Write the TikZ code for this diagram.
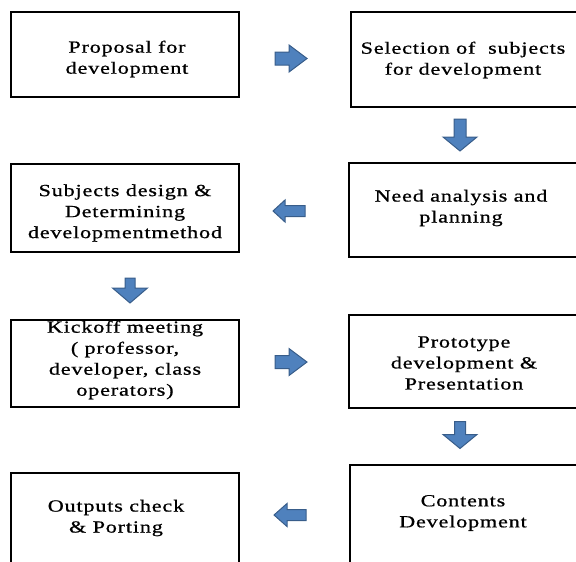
\documentclass[tikz,border=0pt]{standalone}
\usepackage{fontspec}
\setmainfont{Liberation Serif}[FakeStretch=1.3,LetterSpace=5,FakeBold=0.8]
\definecolor{arrfill}{HTML}{4F81BD}
\definecolor{arrdraw}{HTML}{385D8A}
% \blockarr{name}{x}{y}{rotation}{length}{head width}{shaft width}{head length}
\newcommand\blockarr[8]{%
  \coordinate (#1) at (#2,#3);
  \draw[blockarrow,shift={(#1)},rotate=#4]
    (-#5/2,-#7/2) -- (#5/2-#8,-#7/2) -- (#5/2-#8,-#6/2) -- (#5/2,0)
    -- (#5/2-#8,#6/2) -- (#5/2-#8,#7/2) -- (-#5/2,#7/2) -- cycle;}
\begin{document}
\begin{tikzpicture}[x=1pt,y=-1pt,
  stage/.style={draw=black,line width=2.6pt,fill=white,inner sep=0pt,anchor=center},
  stagetext/.style={align=center,font=\fontsize{17}{21}\selectfont,inner sep=0pt,anchor=center},
  blockarrow/.style={draw=arrdraw,fill=arrfill,line width=1pt,line join=miter}
]
\useasboundingbox (0,0) rectangle (576,562);
\begin{scope}
\clip (0,0) rectangle (576,562);
\node[stage,minimum width=228pt,minimum height=85pt] (b1) at (125,54.5) {};
\node[stage,minimum width=227pt,minimum height=95pt] (b2) at (464.5,59.5) {};
\node[stage,minimum width=228pt,minimum height=88pt] (b3) at (125,208) {};
\node[stage,minimum width=229pt,minimum height=94pt] (b4) at (463.5,210) {};
\node[stage,minimum width=228pt,minimum height=87pt] (b5) at (125,363.5) {};
\node[stage,minimum width=229pt,minimum height=93pt] (b6) at (463.5,361.5) {};
\node[stage,minimum width=228pt,minimum height=93pt] (b7) at (125,519.5) {};
\node[stage,minimum width=228pt,minimum height=101pt] (b8) at (464,515.5) {};

\node[stagetext] (t1) at (127,59) {Proposal for\\development};
\node[stagetext] (t2) at (463,60) {Selection of \ subjects\\for development};
\node[stagetext] (t3) at (125,213) {Subjects design \&\\Determining\\developmentmethod};
\node[stagetext] (t4) at (461,208) {Need analysis and\\planning};
\node[stagetext] (t5) at (125,360) {Kickoff meeting\\( professor,\\developer, class\\operators)};
\node[stagetext] (t6) at (464,363) {Prototype\\development \&\\Presentation};
\node[stagetext] (t7) at (116,518) {Outputs check\\\& Porting};
\node[stagetext] (t8) at (463,513) {Contents\\Development};

\blockarr{a1}{291}{58.5}{0}{32}{27}{13}{18}
\blockarr{a2}{460}{135}{-90}{32}{34}{12}{14}
\blockarr{a3}{289}{211}{180}{32}{22}{11}{12}
\blockarr{a4}{130}{290.5}{-90}{25}{35}{10}{15}
\blockarr{a5}{291}{362}{0}{32}{27}{13}{18}
\blockarr{a6}{460}{435}{-90}{27}{34}{11}{14}
\blockarr{a7}{290}{515}{180}{32}{23}{11}{13}
\end{scope}
\end{tikzpicture}
\end{document}
